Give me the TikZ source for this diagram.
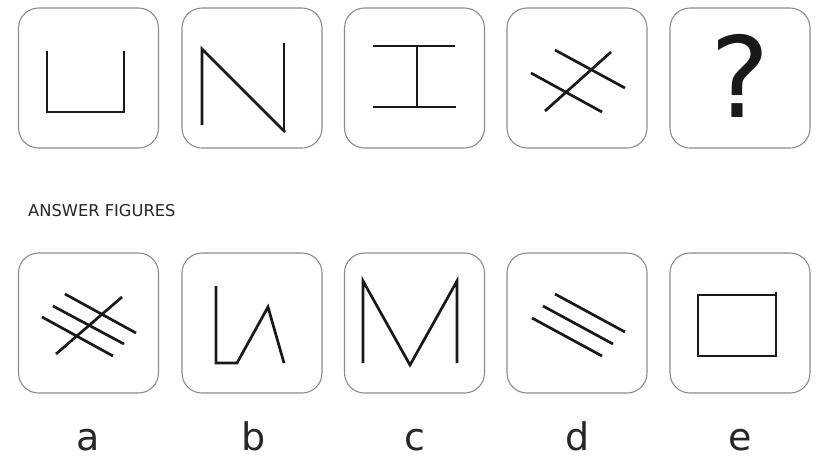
\documentclass[tikz,border=0pt]{standalone}
\usepackage{fontspec}
\setmainfont{DejaVu Sans}
\begin{document}
\begin{tikzpicture}[x=1pt,y=-1pt,
  panel/.style={draw=black!45,line width=1.1pt,rounded corners=20pt,minimum width=140pt,minimum height=140pt,inner sep=0pt},
  fig/.style={draw=black!90,line width=2.7pt,line join=miter},
  lbl/.style={font=\fontsize{38}{40}\selectfont,text=black!85,anchor=base,inner sep=0pt}]
\useasboundingbox (0,0) rectangle (817,459);
% top row
\node[panel] (t1) at (88.5,78) {};
\node[panel] (t2) at (252,78) {};
\node[panel] (t3) at (414.5,78) {};
\node[panel] (t4) at (577,78) {};
\node[panel] (t5) at (740,78) {};
% bottom row
\node[panel] (b1) at (88.5,323) {};
\node[panel] (b2) at (252,323) {};
\node[panel] (b3) at (414.5,323) {};
\node[panel] (b4) at (577,323) {};
\node[panel] (b5) at (740,323) {};
% U
\draw[fig] (47,51) -- (47,112) -- (124,112) -- (124,51);
% N
\draw[fig] (202,125) -- (202,49) -- (285,132);
\draw[fig] (284,43) -- (284,132);
% I
\draw[fig] (373,46) -- (455,46);
\draw[fig] (373,107) -- (456,107);
\draw[fig] (417,46) -- (417,107);
% crossed lines
\draw[fig] (531,73) -- (602,112);
\draw[fig] (555,50) -- (625,88);
\draw[fig] (545,111) -- (611,52);
% question mark
\node[anchor=base,font=\fontsize{112}{120}\selectfont,text=black!90,inner sep=0pt] (q) at (740,117) {?};
% answer label
\node[anchor=base west,font=\fontsize{16.3}{18}\selectfont,text=black!85,inner sep=0pt] (ans) at (28,216) {ANSWER FIGURES};
% a
\draw[fig] (65,294) -- (136,333);
\draw[fig] (53,306) -- (124,344);
\draw[fig] (42,317) -- (113,356);
\draw[fig] (56,354) -- (122,297);
% b
\draw[fig] (216,286) -- (216,363) -- (237,363) -- (268,307) -- (284,363);
% c
\draw[fig] (363,363) -- (363,281) -- (410,365) -- (457,281) -- (457,363);
% d
\draw[fig] (555,294) -- (625,332);
\draw[fig] (543,306) -- (613,344);
\draw[fig] (532,318) -- (602,356);
% e
\draw[fig] (698,295) rectangle (776,356);
\draw[fig,line width=1.5pt] (776,295) -- (776,292);
% letters
\node[lbl] (la) at (88.5,450) {a};
\node[lbl] (lb) at (254,450) {b};
\node[lbl] (lc) at (414.5,450) {c};
\node[lbl] (ld) at (578,450) {d};
\node[lbl] (le) at (740,450) {e};
\end{tikzpicture}
\end{document}
